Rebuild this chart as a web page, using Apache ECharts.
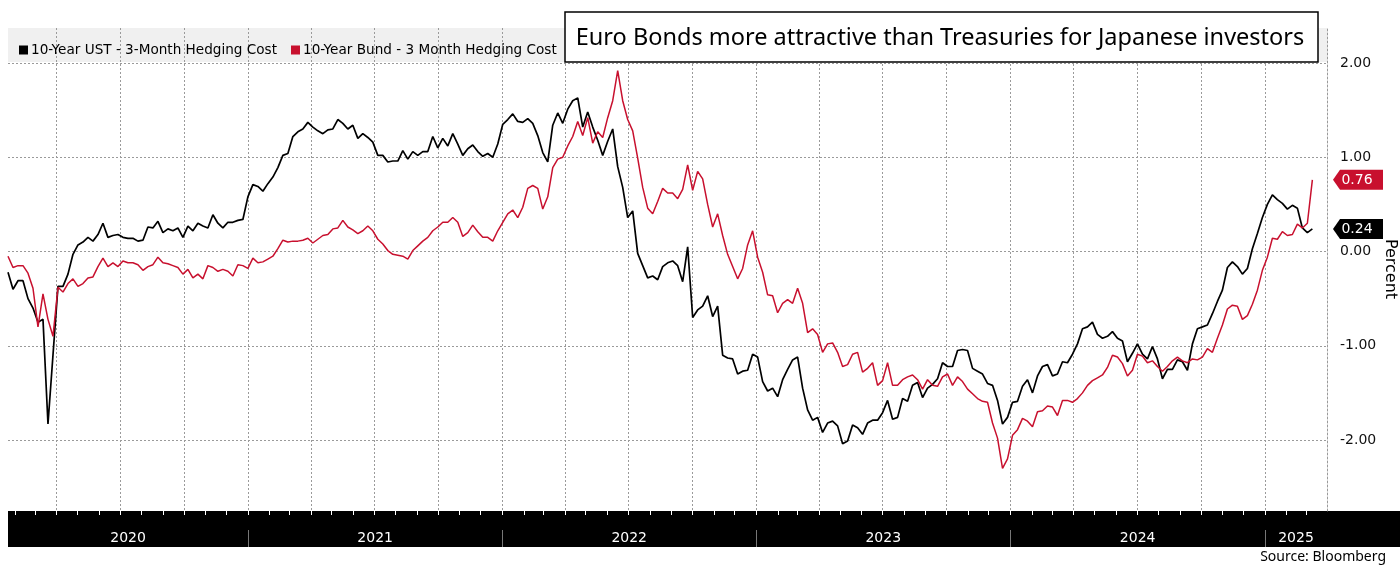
<!DOCTYPE html>
<html><head><meta charset="utf-8">
<script src="https://cdn.jsdelivr.net/npm/echarts@6/dist/echarts.min.js"></script>
<style>html,body{margin:0;padding:0;background:#fff}#c{width:1400px;height:565px}</style>
</head><body><div id="c"></div>
<script>
// ---------------- data ----------------
const seriesNames = ['10-Year UST - 3-Month Hedging Cost', '10-Year Bund - 3 Month Hedging Cost'];
const titleText = 'Euro Bonds more attractive than Treasuries for Japanese investors';
const sourceText = 'Source: Bloomberg';
const yAxisName = 'Percent';
const firstObs = '2020-01-22';      // first observation
const obsStepDays = 7.18;           // roughly weekly observations
const axisStart = '2020-01-22';
const axisEnd = '2025-03-31';
const yTickValues = [-2, -1, 0, 1, 2];
const yearLabels = ['2020', '2021', '2022', '2023', '2024', '2025'];

const ust = [
 -0.22,-0.40,-0.31,-0.31,-0.50,-0.60,-0.75,-0.72,-1.83,-1.10,-0.37,-0.37,-0.24,-0.03,0.07,0.10,0.15,0.11,0.18,0.30,0.15,0.17,0.18,0.15,0.14,0.14,0.11,0.12,0.26,0.25,0.32,0.20,0.24,0.22,0.25,0.15,0.27,0.22,0.30,0.27,0.25,0.39,0.30,
 0.25,0.31,0.31,0.33,0.34,0.58,0.71,0.69,0.64,0.72,0.79,0.89,1.02,1.04,1.22,1.27,1.30,1.37,1.32,1.28,1.25,1.29,1.30,1.40,1.36,1.30,1.34,1.20,1.25,1.21,1.16,1.02,1.02,0.95,0.96,0.96,1.07,0.98,1.06,1.02,1.06,1.06,1.22,1.10,
 1.20,1.12,1.25,1.14,1.02,1.09,1.13,1.06,1.01,1.04,1.00,1.14,1.35,1.40,1.46,1.38,1.37,1.41,1.36,1.23,1.05,0.95,1.34,1.47,1.36,1.51,1.60,1.63,1.32,1.48,1.32,1.18,1.02,1.17,1.30,0.90,0.68,0.36,0.43,-0.02,-0.15,-0.28,-0.26,-0.30,
 -0.16,-0.12,-0.10,-0.15,-0.32,0.05,-0.70,-0.62,-0.58,-0.47,-0.69,-0.58,-1.10,-1.13,-1.14,-1.30,-1.27,-1.26,-1.09,-1.12,-1.38,-1.48,-1.45,-1.54,-1.36,-1.25,-1.15,-1.12,-1.45,-1.68,-1.79,-1.76,-1.92,-1.82,-1.80,-1.85,-2.04,-2.01,-1.84,-1.87,-1.94,-1.82,-1.79,-1.79,
 -1.71,-1.58,-1.78,-1.76,-1.56,-1.59,-1.42,-1.39,-1.55,-1.45,-1.41,-1.35,-1.18,-1.22,-1.22,-1.05,-1.04,-1.05,-1.24,-1.27,-1.30,-1.40,-1.42,-1.58,-1.83,-1.76,-1.60,-1.59,-1.43,-1.36,-1.50,-1.32,-1.22,-1.20,-1.32,-1.30,-1.17,-1.18,-1.09,-0.98,-0.82,-0.80,-0.75,-0.88,
 -0.92,-0.90,-0.85,-0.92,-0.95,-1.17,-1.08,-0.98,-1.09,-1.14,-1.01,-1.14,-1.35,-1.25,-1.25,-1.15,-1.17,-1.26,-0.98,-0.82,-0.80,-0.78,-0.66,-0.53,-0.41,-0.17,-0.11,-0.16,-0.24,-0.18,0.03,0.19,0.36,0.50,0.60,0.55,0.51,0.45,0.49,0.46,0.25,0.20,0.24
];
const bund = [
 -0.05,-0.17,-0.15,-0.15,-0.23,-0.39,-0.80,-0.45,-0.72,-0.90,-0.38,-0.43,-0.34,-0.29,-0.37,-0.34,-0.28,-0.27,-0.16,-0.07,-0.16,-0.12,-0.16,-0.10,-0.12,-0.12,-0.14,-0.20,-0.16,-0.14,-0.06,-0.12,-0.13,-0.15,-0.17,-0.24,-0.19,-0.28,-0.24,-0.29,-0.15,-0.17,-0.21,
 -0.19,-0.21,-0.26,-0.14,-0.15,-0.18,-0.07,-0.12,-0.11,-0.08,-0.05,0.03,0.12,0.10,0.11,0.11,0.12,0.14,0.09,0.13,0.17,0.18,0.24,0.25,0.33,0.26,0.23,0.19,0.22,0.27,0.22,0.13,0.08,0.01,-0.03,-0.04,-0.05,-0.08,0.01,0.06,0.11,0.15,0.22,0.26,
 0.31,0.31,0.36,0.31,0.16,0.20,0.28,0.21,0.15,0.15,0.11,0.22,0.31,0.40,0.44,0.36,0.47,0.67,0.70,0.67,0.45,0.58,0.89,0.98,1.00,1.12,1.22,1.38,1.23,1.42,1.15,1.27,1.21,1.42,1.60,1.92,1.60,1.40,1.28,0.99,0.68,0.46,0.40,0.53,
 0.67,0.62,0.62,0.56,0.66,0.92,0.65,0.85,0.77,0.50,0.26,0.40,0.17,-0.03,-0.16,-0.29,-0.18,0.07,0.22,-0.06,-0.22,-0.46,-0.47,-0.65,-0.55,-0.51,-0.55,-0.39,-0.55,-0.86,-0.82,-0.88,-1.07,-0.98,-0.97,-1.07,-1.22,-1.20,-1.09,-1.07,-1.28,-1.24,-1.18,-1.42,
 -1.37,-1.18,-1.42,-1.42,-1.36,-1.33,-1.31,-1.36,-1.46,-1.36,-1.42,-1.43,-1.33,-1.30,-1.42,-1.33,-1.38,-1.46,-1.51,-1.56,-1.59,-1.60,-1.82,-1.98,-2.30,-2.20,-1.95,-1.89,-1.77,-1.80,-1.86,-1.70,-1.69,-1.64,-1.65,-1.74,-1.58,-1.58,-1.60,-1.56,-1.50,-1.42,-1.37,-1.34,
 -1.31,-1.23,-1.10,-1.12,-1.19,-1.32,-1.26,-1.09,-1.11,-1.18,-1.16,-1.22,-1.27,-1.22,-1.16,-1.12,-1.16,-1.18,-1.14,-1.15,-1.12,-1.03,-1.07,-0.92,-0.78,-0.61,-0.57,-0.58,-0.72,-0.68,-0.56,-0.41,-0.20,-0.06,0.14,0.13,0.21,0.17,0.18,0.29,0.25,0.30,0.76
];

// ---------------- build ----------------
const DAY = 86400000;
const t0 = Date.parse(firstObs + 'T00:00:00Z');
const XMIN = Date.parse(axisStart + 'T00:00:00Z');
const XMAX = Date.parse(axisEnd + 'T00:00:00Z');
const dates = ust.map((_, i) => t0 + i * obsStepDays * DAY);
const ustData = ust.map((v, i) => [dates[i], v]);
const bundData = bund.map((v, i) => [dates[i], v]);

const monthTicks = [], quarterTicks = [], yearStarts = [], yearMids = [];
yearLabels.forEach(ys => {
  const y = +ys;
  for (let m = 0; m < 12; m++) {
    const t = Date.UTC(y, m, 1);
    if (t > XMIN && t < XMAX) {
      monthTicks.push(t);
      if (m % 3 === 0) quarterTicks.push(t);
      if (m === 0) yearStarts.push(t);
    }
  }
  const a = Math.max(Date.UTC(y, 0, 1), XMIN), b = Math.min(Date.UTC(y + 1, 0, 1), XMAX);
  yearMids.push((a + b) / 2);
});

const FONT = 'DejaVu Sans';
const BLACK = '#000000', RED = '#c8102e';

function tag(vals, color) {
  const last = vals[vals.length - 1];
  return {
    silent: true,
    symbol: 'path://M0,10L7,0L50,0L50,20L7,20Z',
    symbolSize: [50, 20],
    symbolKeepAspect: false,
    symbolOffset: [31, 0],
    itemStyle: { color: color },
    label: { show: true, position: 'inside', offset: [-1, 0], color: '#fff', fontFamily: FONT, fontSize: 14,
             formatter: () => last.toFixed(2) },
    data: [{ coord: [XMAX, last], value: last }]
  };
}

const chart = echarts.init(document.getElementById('c'), null, { renderer: 'canvas' });
chart.setOption({
  animation: false,
  backgroundColor: '#fff',
  grid: [
    { left: 8, right: 73, top: 63, height: 377 },
    { left: 8, right: 73, top: 28, bottom: 54 },
    { left: 8, right: 73, top: 511, height: 36 }
  ],
  legend: {
    left: 14, top: 38, icon: 'rect', itemWidth: 9, itemHeight: 9, itemGap: 14,
    textStyle: { fontFamily: FONT, fontSize: 13.6, color: '#000', padding: [0, 0, 0, -2] },
    data: seriesNames
  },
  xAxis: [
    { type: 'value', gridIndex: 0, min: XMIN, max: XMAX, show: false },
    { type: 'value', gridIndex: 1, min: XMIN, max: XMAX, position: 'bottom',
      axisLine: { show: false },
      axisTick: { show: true, customValues: monthTicks, length: 4, inside: false, lineStyle: { color: '#fff', width: 1 } },
      axisLabel: { show: false }, splitLine: { show: false } },
    { type: 'value', gridIndex: 1, min: XMIN, max: XMAX, position: 'top',
      axisLine: { show: false },
      axisTick: { show: false, customValues: quarterTicks },
      axisLabel: { show: false, customValues: quarterTicks },
      splitLine: { show: true, lineStyle: { color: '#9a9a9a', type: [2, 2], width: 1 } } },
    { type: 'value', gridIndex: 2, min: XMIN, max: XMAX, position: 'bottom',
      axisLine: { show: false },
      axisTick: { show: true, customValues: yearStarts, inside: true, length: 17, lineStyle: { color: '#777' } },
      axisLabel: { show: true, customValues: yearMids, inside: true, margin: 2, color: '#fff', fontFamily: FONT, fontSize: 14,
                   formatter: v => String(new Date(v).getUTCFullYear()) },
      splitLine: { show: false } }
  ],
  yAxis: [
    { type: 'value', gridIndex: 0, position: 'right', min: yTickValues[0], max: yTickValues[yTickValues.length - 1], interval: 1,
      axisLine: { show: false }, axisTick: { show: false },
      axisLabel: { margin: 13, color: '#111', fontFamily: FONT, fontSize: 14, formatter: v => v.toFixed(2) },
      splitLine: { show: true, lineStyle: { color: '#9a9a9a', type: [2, 2], width: 1 } } },
    { type: 'value', gridIndex: 1, position: 'right', min: 0, max: 1,
      axisLine: { show: true, lineStyle: { color: '#9a9a9a', type: [2, 2], width: 1 } },
      axisTick: { show: false }, axisLabel: { show: false }, splitLine: { show: false } },
    { type: 'value', gridIndex: 2, min: 0, max: 1, show: false }
  ],
  graphic: [
    { type: 'rect', z: -1, silent: true, shape: { x: 8, y: 28, width: 1319, height: 34 }, style: { fill: '#f0f0f0' } },
    { type: 'rect', z: -1, silent: true, shape: { x: 8, y: 511, width: 1392, height: 36 }, style: { fill: '#000' } },
    { type: 'rect', z: 10, silent: true, shape: { x: 565, y: 12, width: 753, height: 50 }, style: { fill: '#fff', stroke: '#000', lineWidth: 1.5 } },
    { type: 'text', z: 11, silent: true, x: 940, y: 38,
      style: { text: titleText, font: '23.5px "Noto Sans"', align: 'center', verticalAlign: 'middle', fill: '#000' } },
    { type: 'text', z: 11, silent: true, x: 1390, y: 269, rotation: -Math.PI / 2,
      style: { text: yAxisName, font: '16px "DejaVu Sans"', align: 'center', verticalAlign: 'middle', fill: '#000' } },
    { type: 'text', z: 11, silent: true, x: 1386, y: 557,
      style: { text: sourceText, font: '14px "Noto Sans"', align: 'right', verticalAlign: 'middle', fill: '#000' } }
  ],
  series: [
    { name: seriesNames[0], type: 'line', xAxisIndex: 0, yAxisIndex: 0, data: ustData, showSymbol: false, clip: false,
      color: BLACK, lineStyle: { color: BLACK, width: 1.7 }, markPoint: tag(ust, BLACK) },
    { name: seriesNames[1], type: 'line', xAxisIndex: 0, yAxisIndex: 0, data: bundData, showSymbol: false, clip: false,
      color: RED, lineStyle: { color: RED, width: 1.5 }, markPoint: tag(bund, RED) }
  ]
});
</script></body></html>
